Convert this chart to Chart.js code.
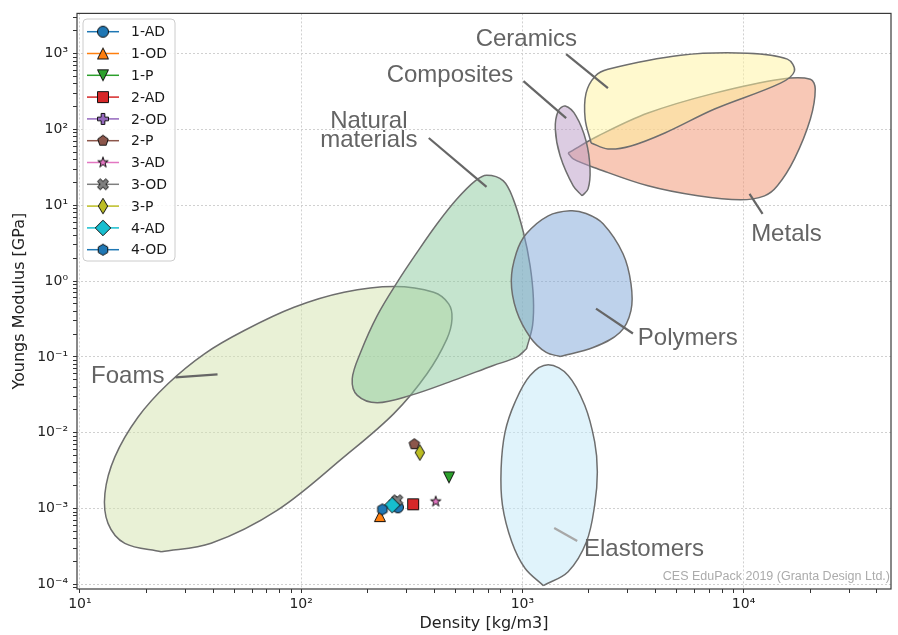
<!DOCTYPE html>
<html>
<head>
<meta charset="utf-8">
<title>Youngs modulus vs density</title>
<script src="https://cdn.jsdelivr.net/npm/chart.js@4.4.1/dist/chart.umd.min.js"></script>
<style>
  html, body { margin: 0; padding: 0; background: #fff; }
  canvas { display: block; }
</style>
</head>
<body>
<canvas id="ashby" width="898" height="635"></canvas>
<script>
// measured samples
const sampleNames = ['1-AD', '1-OD', '1-P', '2-AD', '2-OD', '2-P', '3-AD', '3-OD', '3-P', '4-AD', '4-OD'];
const sampleDensity = [274, 227, 466, 321, 265, 325, 406, 272, 344, 258, 233];
const sampleModulus = [0.00104, 0.000796, 0.00258, 0.00114, 0.00122, 0.00706, 0.00124, 0.00129, 0.00548, 0.00111, 0.000976];
const sampleColors = ['#1f77b4', '#ff7f0e', '#2ca02c', '#d62728', '#9467bd', '#8c564b', '#e377c2', '#7f7f7f', '#bcbd22', '#17becf', '#1f77b4'];
const sampleShapes = ['circle', 'triUp', 'triDown', 'square', 'plusFilled', 'pentagon', 'star', 'xFilled', 'thinDiamond', 'diamond', 'hexagon'];

// material family envelopes as [log10 density, log10 modulus]
const foamsOutline = [[1.368, -3.568], [1.203, -3.458], [1.127, -3.195], [1.113, -2.800], [1.158, -2.318], [1.263, -1.792], [1.398, -1.353], [1.563, -0.958], [1.743, -0.651], [1.968, -0.345], [2.194, -0.147], [2.419, -0.072], [2.599, -0.147], [2.667, -0.300], [2.682, -0.497], [2.659, -0.761], [2.569, -1.221], [2.419, -1.747], [2.194, -2.318], [1.893, -3.020], [1.593, -3.458]];
const naturalOutline = [[3.019, -0.892], [2.974, -1.003], [2.869, -1.112], [2.689, -1.309], [2.494, -1.507], [2.344, -1.603], [2.254, -1.507], [2.231, -1.287], [2.269, -0.937], [2.344, -0.454], [2.434, -0.016], [2.524, 0.379], [2.614, 0.753], [2.704, 1.082], [2.787, 1.322], [2.839, 1.397], [2.914, 1.322], [2.959, 1.082], [3.005, 0.642], [3.035, 0.204], [3.050, -0.234], [3.046, -0.586]];
const polymersOutline = [[3.171, -0.993], [3.108, -0.941], [3.036, -0.743], [2.973, -0.388], [2.950, 0.007], [2.973, 0.375], [3.018, 0.625], [3.117, 0.862], [3.216, 0.928], [3.288, 0.892], [3.365, 0.757], [3.455, 0.362], [3.491, -0.033], [3.491, -0.388], [3.441, -0.678], [3.320, -0.875]];
const elastomersOutline = [[3.095, -4.016], [3.012, -3.787], [2.952, -3.437], [2.910, -2.954], [2.904, -2.471], [2.922, -1.989], [2.967, -1.595], [3.035, -1.243], [3.117, -1.103], [3.207, -1.243], [3.282, -1.638], [3.327, -2.121], [3.339, -2.516], [3.327, -2.954], [3.290, -3.437], [3.207, -3.832]];
const metalsOutline = [[3.207, 1.691], [3.342, 1.914], [3.568, 2.217], [3.869, 2.480], [4.167, 2.664], [4.302, 2.664], [4.324, 2.533], [4.302, 2.138], [4.230, 1.612], [4.153, 1.257], [4.095, 1.125], [3.986, 1.072], [3.793, 1.125], [3.568, 1.257], [3.342, 1.480], [3.230, 1.612]];
const ceramicsOutline = [[3.311, 1.822], [3.284, 2.138], [3.288, 2.480], [3.329, 2.704], [3.387, 2.796], [3.716, 2.980], [4.018, 3.007], [4.198, 2.928], [4.230, 2.770], [4.167, 2.612], [3.869, 2.270], [3.644, 1.954], [3.491, 1.783], [3.387, 1.743]];
const compositesOutline = [[3.270, 1.125], [3.230, 1.257], [3.171, 1.651], [3.149, 2.007], [3.162, 2.243], [3.194, 2.309], [3.243, 2.178], [3.288, 1.849], [3.306, 1.480], [3.297, 1.217]];

const familyNames = ['Foams', 'Natural materials', 'Polymers', 'Elastomers', 'Metals', 'Ceramics', 'Composites'];
const familyOutlines = [foamsOutline, naturalOutline, polymersOutline, elastomersOutline, metalsOutline, ceramicsOutline, compositesOutline];
const familyFills = ['rgba(211,227,173,0.5)', 'rgba(139,201,157,0.5)', 'rgba(125,165,215,0.5)', 'rgba(193,231,247,0.5)', 'rgba(241,145,109,0.5)', 'rgba(255,243,157,0.5)', 'rgba(185,153,197,0.5)'];

// label text and where it sits (log10 coordinates) plus its leader line
const labelLines = [['Foams'], ['Natural', 'materials'], ['Polymers'], ['Elastomers'], ['Metals'], ['Ceramics'], ['Composites']];
const labelAnchors = [[1.216, -1.349], [2.306, 2.020], [3.748, -0.836], [3.550, -3.625], [4.194, 0.533], [3.018, 3.099], [2.673, 2.625]];
const leaderLines = [
  [[1.432, -1.270], [1.622, -1.230]],
  [[2.577, 1.888], [2.838, 1.243]],
  [[3.333, -0.362], [3.500, -0.691]],
  [[3.144, -3.257], [3.248, -3.428]],
  [[4.027, 1.151], [4.086, 0.888]],
  [[3.198, 2.993], [3.387, 2.546]],
  [[3.005, 2.638], [3.198, 2.151]]
];

const xMin = 9.7, xMax = 46400, yMin = 8.7e-5, yMax = 3400;

const fromLog = pts => pts.map(p => ({ x: Math.pow(10, p[0]), y: Math.pow(10, p[1]) }));

// matplotlib-like marker glyphs
const MS = 11;
function markerPath(ctx, shape) {
  const h = MS / 2;
  const d = MS * Math.SQRT1_2;
  let pts = null;
  ctx.beginPath();
  if (shape === 'circle') { ctx.arc(0, 0, h, 0, Math.PI * 2); ctx.closePath(); return; }
  if (shape === 'square') pts = [[-h, -h], [h, -h], [h, h], [-h, h]];
  if (shape === 'triUp') pts = [[0, -h], [h, h], [-h, h]];
  if (shape === 'triDown') pts = [[0, h], [h, -h], [-h, -h]];
  if (shape === 'diamond') pts = [[0, -d], [d, 0], [0, d], [-d, 0]];
  if (shape === 'thinDiamond') pts = [[0, -d], [0.6 * d, 0], [0, d], [-0.6 * d, 0]];
  if (shape === 'pentagon' || shape === 'hexagon') {
    const n = shape === 'pentagon' ? 5 : 6;
    pts = [];
    for (let k = 0; k < n; k++) {
      const a = -Math.PI / 2 + k * 2 * Math.PI / n;
      pts.push([h * Math.cos(a), h * Math.sin(a)]);
    }
  }
  if (shape === 'star') {
    pts = [];
    for (let k = 0; k < 10; k++) {
      const a = -Math.PI / 2 + k * Math.PI / 5;
      const r = k % 2 ? h * 0.381966 : h;
      pts.push([r * Math.cos(a), r * Math.sin(a)]);
    }
  }
  if (shape === 'plusFilled') {
    pts = [[-1, -3], [-1, -1], [-3, -1], [-3, 1], [-1, 1], [-1, 3], [1, 3], [1, 1], [3, 1], [3, -1], [1, -1], [1, -3]]
      .map(p => [p[0] * MS / 6, p[1] * MS / 6]);
  }
  if (shape === 'xFilled') {
    pts = [[-1, -2], [0, -1], [1, -2], [2, -1], [1, 0], [2, 1], [1, 2], [0, 1], [-1, 2], [-2, 1], [-1, 0], [-2, -1]]
      .map(p => [p[0] * MS / 4, p[1] * MS / 4]);
  }
  pts.forEach((p, i) => i ? ctx.lineTo(p[0], p[1]) : ctx.moveTo(p[0], p[1]));
  ctx.closePath();
}

function makeMarker(shape, color) {
  const c = document.createElement('canvas');
  c.width = 20; c.height = 20;
  const g = c.getContext('2d');
  g.translate(10, 10);
  markerPath(g, shape);
  g.fillStyle = color;
  g.fill();
  g.lineWidth = 1;
  g.strokeStyle = '#111';
  g.stroke();
  return c;
}
const markers = sampleShapes.map((s, i) => makeMarker(s, sampleColors[i]));

const SUP = { '-': '\u207b', '0': '\u2070', '1': '\u00b9', '2': '\u00b2', '3': '\u00b3', '4': '\u2074', '5': '\u2075', '6': '\u2076', '7': '\u2077', '8': '\u2078', '9': '\u2079' };
const powLabel = v => '10' + String(Math.round(Math.log10(v))).split('').map(ch => SUP[ch]).join('');

function logTicks(scale) {
  const ticks = [];
  for (let e = Math.floor(Math.log10(scale.min)); e <= Math.ceil(Math.log10(scale.max)); e++) {
    for (let m = 1; m <= 9; m++) {
      const v = Number((m * Math.pow(10, e)).toPrecision(6));
      if (v >= scale.min && v <= scale.max) ticks.push({ value: v, major: m === 1 });
    }
  }
  scale.ticks = ticks;
}

const datasets = [];
familyOutlines.forEach((outline, i) => {
  const pts = fromLog(outline);
  pts.push(pts[0]);
  datasets.push({
    label: familyNames[i],
    data: pts,
    showLine: true,
    fill: 'shape',
    backgroundColor: familyFills[i],
    borderColor: '#6e6e6e',
    borderWidth: 1.5,
    pointRadius: 0,
    tension: 0.35,
    order: 110 - i
  });
});
leaderLines.forEach((seg, i) => {
  datasets.push({
    label: 'leader ' + familyNames[i],
    data: fromLog(seg),
    showLine: true,
    fill: false,
    borderColor: familyNames[i] === 'Elastomers' ? '#a8a8a8' : '#666666',
    borderWidth: 2.2,
    pointRadius: 0,
    order: 90
  });
});
sampleNames.forEach((name, i) => {
  datasets.push({
    label: name,
    data: [{ x: sampleDensity[i], y: sampleModulus[i] }],
    pointStyle: markers[i],
    pointRadius: 6,
    backgroundColor: sampleColors[i],
    borderColor: '#111',
    order: 20 - i
  });
});

const frameAndText = {
  id: 'frameAndText',
  afterDatasetsDraw(chart) {
    const { ctx, chartArea: a, scales } = chart;
    ctx.save();
    // region labels
    ctx.fillStyle = '#646464';
    ctx.font = '24px "Liberation Sans", Arial, sans-serif';
    ctx.textAlign = 'center';
    ctx.textBaseline = 'alphabetic';
    labelLines.forEach((lines, i) => {
      const px = scales.x.getPixelForValue(Math.pow(10, labelAnchors[i][0]));
      const py = scales.y.getPixelForValue(Math.pow(10, labelAnchors[i][1]));
      lines.forEach((t, j) => ctx.fillText(t, px, py + j * 19));
    });
    // watermark
    ctx.fillStyle = '#ababab';
    ctx.font = '12.5px "Liberation Sans Narrow", "Liberation Sans", Arial, sans-serif';
    ctx.textAlign = 'right';
    ctx.fillText('CES EduPack 2019 (Granta Design Ltd.)', a.right - 1, a.bottom - 9);
    // frame
    ctx.strokeStyle = '#3a3a3a';
    ctx.lineWidth = 1.2;
    ctx.strokeRect(a.left, a.top, a.right - a.left, a.bottom - a.top);
    ctx.restore();
  },
  afterDraw(chart) {
    const ctx = chart.ctx;
    const bx = 83, by = 19, bw = 92, bh = 242, r = 4;
    ctx.save();
    ctx.beginPath();
    ctx.moveTo(bx + r, by);
    ctx.arcTo(bx + bw, by, bx + bw, by + bh, r);
    ctx.arcTo(bx + bw, by + bh, bx, by + bh, r);
    ctx.arcTo(bx, by + bh, bx, by, r);
    ctx.arcTo(bx, by, bx + bw, by, r);
    ctx.closePath();
    ctx.fillStyle = 'rgba(255,255,255,0.85)';
    ctx.fill();
    ctx.strokeStyle = '#cccccc';
    ctx.lineWidth = 1;
    ctx.stroke();
    ctx.font = '14px "DejaVu Sans", sans-serif';
    ctx.textAlign = 'left';
    ctx.textBaseline = 'middle';
    sampleNames.forEach((name, i) => {
      const y = 31.7 + i * 21.8;
      ctx.strokeStyle = sampleColors[i];
      ctx.lineWidth = 1.5;
      ctx.beginPath();
      ctx.moveTo(87, y);
      ctx.lineTo(119, y);
      ctx.stroke();
      ctx.drawImage(markers[i], 103 - 10, y - 10);
      ctx.fillStyle = '#1a1a1a';
      ctx.fillText(name, 131, y + 1);
    });
    ctx.restore();
  }
};

const axisCommon = {
  type: 'logarithmic',
  afterBuildTicks: logTicks,
  grid: {
    color: c => (c.tick && c.tick.major) ? '#d0d0d0' : 'rgba(0,0,0,0)',
    lineWidth: 1,
    tickColor: '#333',
    tickLength: 4,
    tickWidth: 1
  },
  border: { display: false, dash: [2, 2] }
};

Chart.defaults.font.family = '"DejaVu Sans", sans-serif';

new Chart(document.getElementById('ashby'), {
  type: 'scatter',
  data: { datasets: datasets },
  options: {
    responsive: false,
    animation: false,
    events: [],
    layout: { padding: { left: 0, top: 12, right: 3, bottom: 0 } },
    plugins: { legend: { display: false }, tooltip: { enabled: false } },
    scales: {
      x: Object.assign({}, axisCommon, {
        position: 'bottom',
        min: xMin,
        max: xMax,
        afterFit: s => { s.height = 46; },
        ticks: {
          autoSkip: false, maxRotation: 0, minRotation: 0, padding: 3,
          color: '#222', font: { size: 14 },
          callback: (v, i, t) => t[i].major ? powLabel(v) : ''
        },
        title: { display: true, text: 'Density [kg/m3]', color: '#222', font: { size: 16 }, padding: { top: 0, bottom: 2 } }
      }),
      y: Object.assign({}, axisCommon, {
        position: 'left',
        min: yMin,
        max: yMax,
        afterFit: s => { s.width = 77; },
        ticks: {
          autoSkip: false, padding: 5,
          color: '#222', font: { size: 14 },
          callback: (v, i, t) => t[i].major ? powLabel(v) : ''
        },
        title: { display: true, text: 'Youngs Modulus [GPa]', color: '#222', font: { size: 16 }, padding: { top: 10, bottom: 0 } }
      })
    }
  },
  plugins: [frameAndText]
});
</script>
</body>
</html>
